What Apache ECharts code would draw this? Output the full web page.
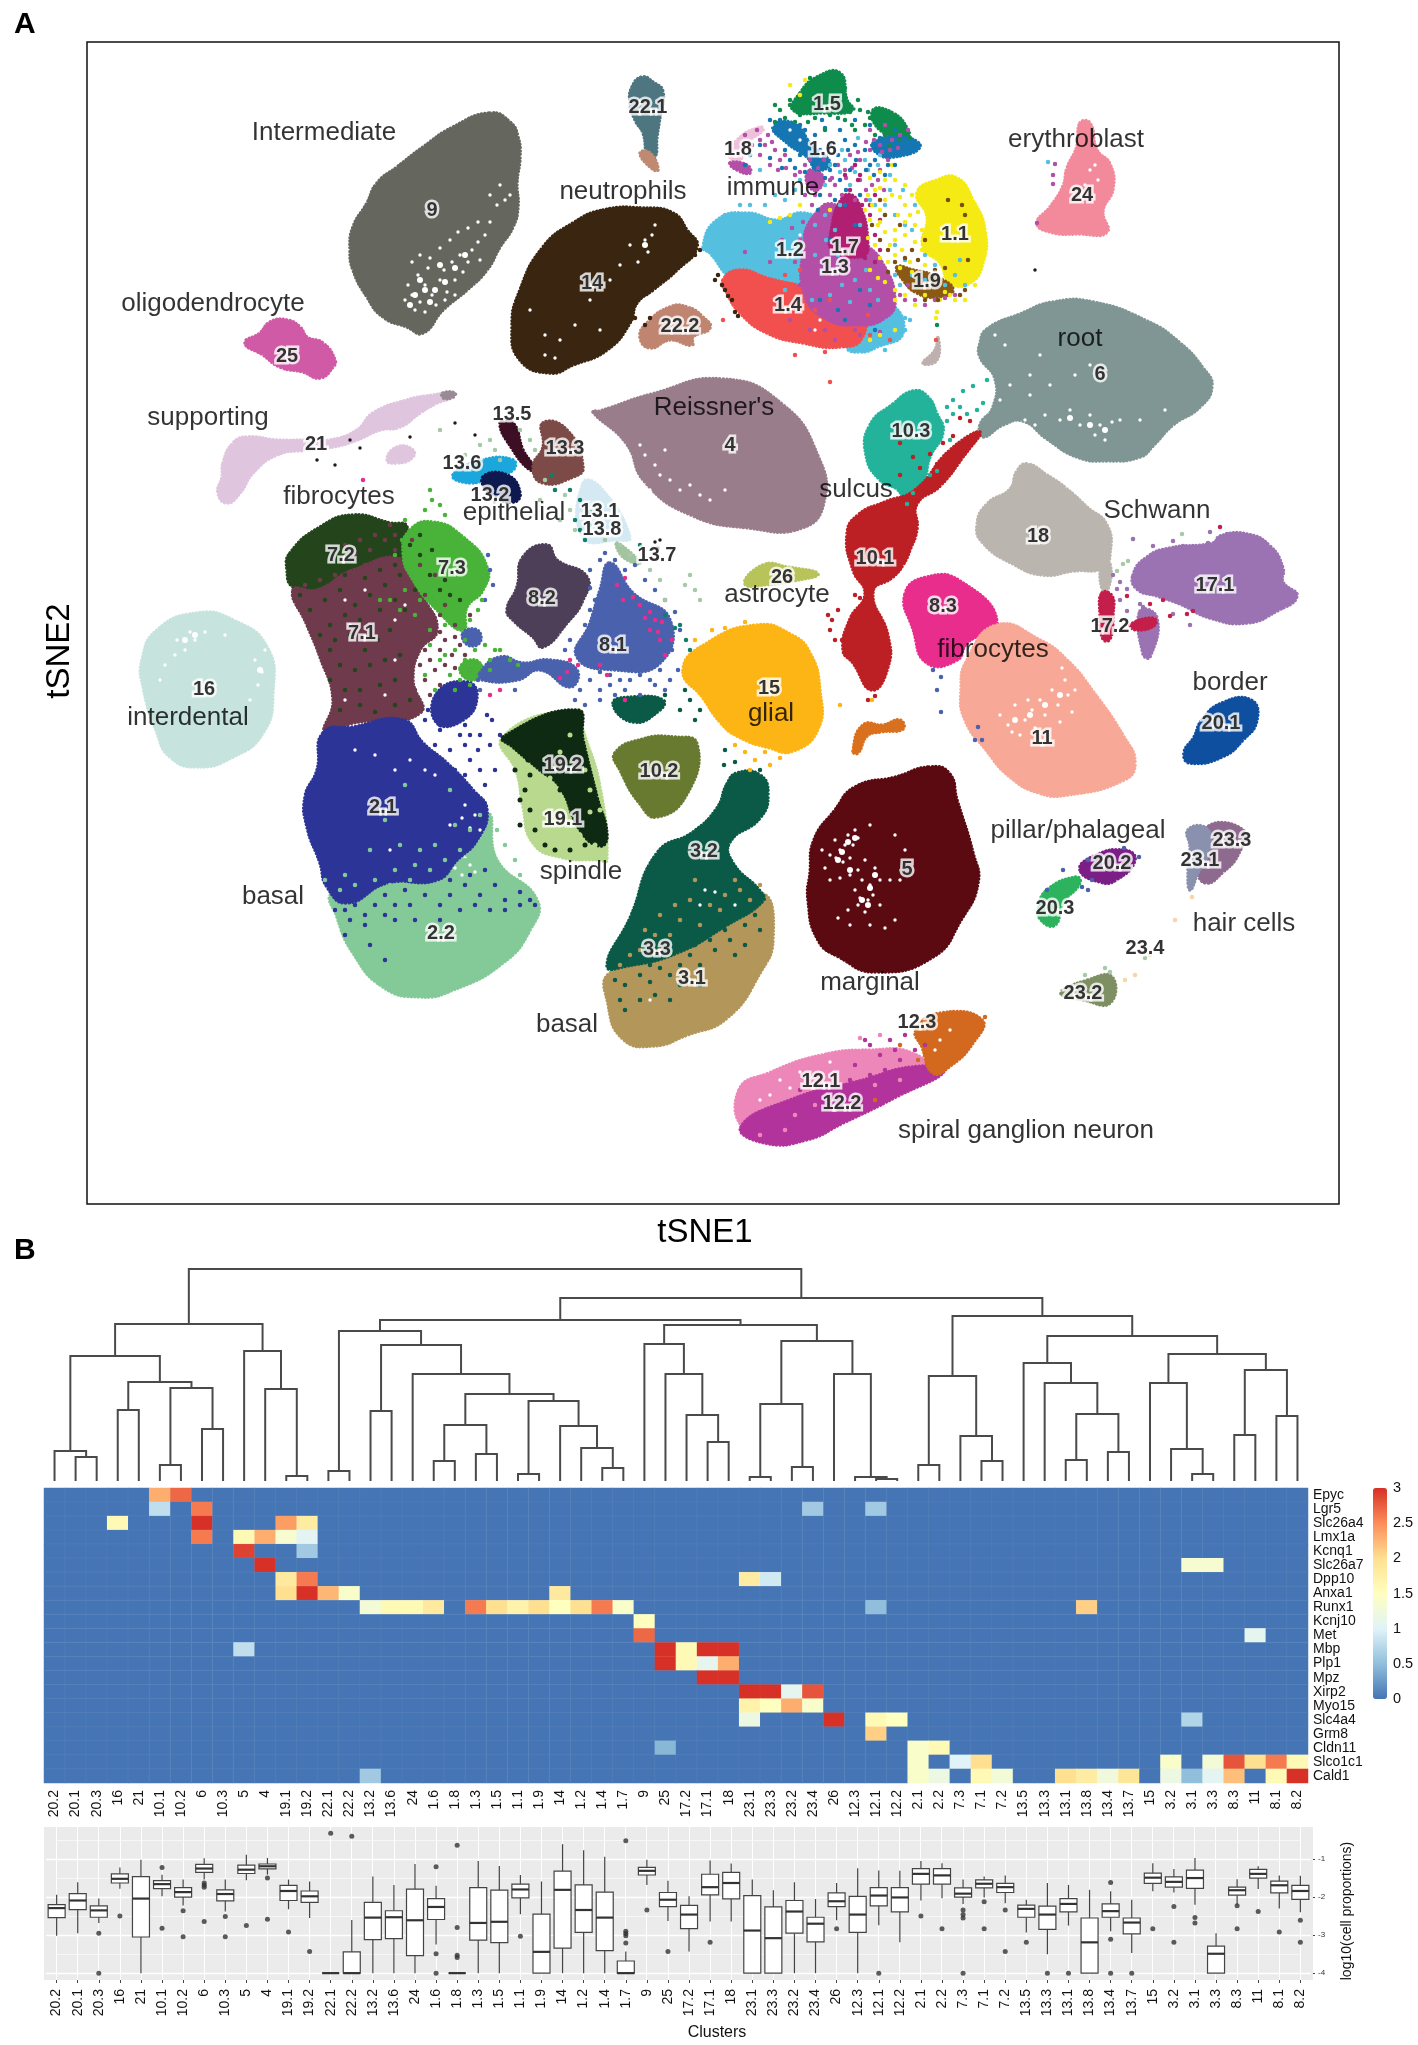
<!DOCTYPE html>
<html><head><meta charset="utf-8">
<script src="https://cdn.jsdelivr.net/npm/echarts@6/dist/echarts.min.js"></script>
<style>html,body{margin:0;padding:0;background:#fff}#c{width:1418px;height:2045px}</style></head>
<body><div id="c"></div>
<script>
// ---------- Panel A: cluster outlines, in tSNE axis units ----------
const c9=[[490,113],[510,122],[518,137],[520,157],[517,183],[518,207],[513,227],[500,247],[487,270],[467,290],[443,310],[423,333],[407,327],[383,317],[367,297],[353,270],[350,250],[353,227],[367,203],[377,183],[397,167],[423,147],[453,127]];
const c25=[[245,343],[260,333],[270,322],[287,320],[300,327],[307,337],[323,343],[335,360],[333,367],[320,378],[303,372],[280,367],[263,355]];
const c21=[[223,463],[233,443],[247,437],[277,440],[307,440],[330,440],[357,430],[373,413],[407,400],[433,395],[453,393],[453,397],[437,403],[420,413],[400,427],[380,430],[357,440],[333,447],[307,450],[277,455],[253,473],[240,493],[227,503],[218,493],[222,477]];
const c21b=[[387,460],[397,447],[413,450],[412,458],[397,463]];
const c21t=[[443,393],[455,393],[453,397],[443,398]];
const c14=[[603,210],[643,208],[673,213],[687,230],[697,247],[677,270],[653,290],[637,303],[630,323],[607,350],[573,365],[550,373],[520,360],[512,327],[520,290],[543,247],[573,223]];
const c221=[[632,87],[642,77],[653,82],[663,92],[660,117],[657,137],[655,157],[648,157],[643,133],[635,120],[630,103]];
const c221t=[[640,153],[650,153],[658,170],[650,167]];
const c222=[[640,337],[647,323],[670,307],[687,307],[703,317],[710,328],[693,337],[692,345],[670,340],[650,348]];
const c4=[[593,412],[600,411],[652,394],[723,379],[782,404],[818,456],[824,502],[802,528],[749,528],[691,515],[645,482],[626,443]];
const c6=[[987,329],[1020,314],[1053,302],[1093,302],[1147,321],[1180,343],[1203,368],[1212,386],[1200,407],[1173,425],[1153,446],[1140,457],[1107,461],[1077,457],[1047,439],[1023,421],[1003,425],[983,437],[980,425],[993,407],[995,379],[980,357],[980,343]];
const c103=[[893,404],[913,391],[927,396],[937,414],[943,432],[930,457],[923,482],[907,500],[897,489],[880,480],[866,455],[870,425]];
const c101=[[980,432],[963,457],[940,486],[917,504],[917,529],[910,550],[903,565],[893,577],[873,592],[888,636],[888,667],[872,690],[853,663],[843,650],[850,619],[865,594],[853,570],[847,534],[858,515],[885,502],[915,490],[950,450]];
const c18=[[1027,464],[1047,475],[1067,489],[1087,507],[1107,525],[1110,554],[1103,568],[1073,571],[1043,575],[1013,564],[983,543],[977,525],[987,504],[1010,489],[1017,471]];
const c18t=[[1102,564],[1110,564],[1108,589],[1102,589]];
const c171=[[1133,575],[1147,557],[1170,548],[1213,543],[1220,536],[1247,534],[1270,546],[1283,568],[1283,582],[1297,596],[1277,611],[1247,623],[1210,618],[1180,604],[1157,596],[1137,589]];
const c171t=[[1140,611],[1157,618],[1150,657],[1143,654]];
const c172=[[1102,593],[1112,596],[1113,614],[1110,639],[1103,639],[1100,614]];
const c172b=[[1130,625],[1153,618],[1155,625],[1137,630]];
const c24=[[1080,123],[1090,123],[1097,150],[1110,164],[1113,189],[1103,211],[1107,232],[1080,234],[1050,232],[1037,223],[1050,207],[1063,186],[1067,168],[1077,146]];
const c12=[[703,247],[717,220],[747,213],[777,220],[803,213],[820,225],[820,295],[790,295],[760,290],[733,280],[710,253]];
const c14b=[[723,280],[740,270],[767,278],[813,290],[860,310],[862,338],[840,347],[803,343],[767,333],[740,313],[727,293]];
const c13=[[813,217],[835,205],[862,240],[882,262],[895,300],[885,318],[857,325],[825,318],[805,295],[803,250]];
const c17=[[843,197],[857,200],[868,247],[860,257],[833,250],[830,237]];
const c12b=[[857,320],[890,305],[903,333],[877,347],[860,352],[847,347]];
const c11=[[917,193],[937,180],[957,178],[973,200],[985,230],[983,263],[970,283],[950,283],[940,263],[923,247],[927,217]];
const c19=[[897,267],[913,270],[937,277],[953,290],[937,297],[917,293],[903,280]];
const c15=[[800,93],[817,77],[840,73],[847,100],[853,110],[823,113],[793,110]];
const c15b=[[873,110],[893,113],[908,130],[907,138],[880,130]];
const c16=[[773,127],[793,123],[813,147],[830,163],[817,170],[807,157],[787,143]];
const c16b=[[873,143],[903,137],[920,147],[893,157],[877,153]];
const c13c=[[810,170],[823,177],[817,190],[807,183]];
const c18a=[[730,157],[737,140],[760,127],[763,130],[747,143],[740,160]];
const c18b=[[730,163],[747,165],[750,173],[737,170]];
const cStick=[[923,363],[935,350],[938,337],[937,360]];
const c72=[[290,553],[320,527],[353,515],[390,523],[407,527],[403,567],[353,577],[317,593],[293,587],[287,570]];
const c71=[[293,590],[317,590],[353,570],[403,560],[423,597],[437,630],[420,650],[413,680],[420,713],[353,723],[325,733],[333,700],[320,657],[307,625]];
const c73=[[410,530],[433,522],[463,537],[487,567],[483,590],[467,607],[463,630],[437,610],[413,580],[403,553]];
const c73b=[[460,668],[475,660],[482,672],[470,680]];
const c21c=[[437,693],[467,682],[477,697],[463,720],[437,723]];
const c82=[[523,557],[547,545],[557,560],[587,577],[583,600],[567,623],[543,647],[533,637],[513,620],[507,610],[517,587]];
const c81=[[610,563],[633,593],[670,620],[660,663],[617,670],[577,657],[590,623],[600,590]];
const c81b=[[480,673],[500,657],[523,663],[550,660],[577,670],[570,687],[540,670],[517,680],[483,680]];
const c81c=[[463,633],[477,630],[480,642],[468,645]];
const c32b=[[613,703],[633,697],[663,700],[660,710],[633,722]];
const c83=[[905,594],[927,577],[960,581],[997,622],[967,643],[957,660],[927,663],[913,629]];
const c11s=[[997,625],[1040,640],[1067,660],[1092,690],[1124,737],[1135,763],[1124,780],[1067,795],[1039,793],[1010,777],[986,750],[965,720],[961,690],[967,660]];
const c201=[[1202,720],[1222,703],[1251,700],[1257,720],[1243,740],[1222,757],[1190,763],[1184,753],[1194,737]];
const c15g=[[683,670],[707,643],[757,625],[790,634],[810,653],[820,691],[818,729],[793,751],[770,748],[737,736],[720,722],[703,698]];
const c102=[[615,753],[643,739],[673,737],[697,744],[687,794],[657,817],[640,804],[620,770]];
const c191=[[503,737],[577,710],[583,730],[600,787],[607,860],[600,860],[560,857],[533,843],[523,807],[517,773]];
const c192=[[503,737],[577,710],[583,740],[597,797],[607,835],[600,846],[580,830],[560,787],[540,770],[513,747]];
const c21m=[[323,733],[353,727],[403,720],[423,743],[447,763],[473,790],[487,810],[477,840],[457,860],[437,880],[387,883],[347,903],[327,887],[320,863],[307,827],[305,797],[317,770]];
const c22=[[487,813],[497,860],[537,900],[530,930],[503,963],[453,990],[420,997],[383,987],[353,953],[337,917],[333,893],[420,873],[453,853]];
const c32=[[727,784],[737,773],[760,775],[768,794],[760,818],[730,842],[733,863],[760,891],[763,901],[727,925],[677,953],[627,966],[607,966],[630,918],[657,853],[693,832],[717,808]];
const c31=[[763,894],[773,939],[760,973],[727,1018],[687,1035],[653,1046],[623,1039],[608,1004],[610,973],[677,953],[727,925]];
const c5=[[929,767],[949,773],[957,800],[973,853],[978,883],[961,920],[933,957],[876,972],[839,957],[818,940],[808,900],[810,873],[814,840],[835,810],[855,787],[896,777]];
const c121=[[739,1090],[769,1073],[822,1055],[871,1050],[912,1053],[929,1073],[884,1100],[822,1123],[782,1137],[745,1130]];
const c122=[[741,1127],[790,1100],[863,1080],[912,1067],[945,1070],[896,1097],[843,1123],[806,1140],[765,1143]];
const c123=[[916,1030],[941,1013],[982,1020],[973,1043],[949,1067],[933,1073],[922,1047]];
const c202=[[1080,870],[1092,857],[1124,850],[1135,860],[1116,880],[1100,882]];
const c203=[[1039,907],[1047,890],[1076,877],[1080,883],[1063,903],[1055,925],[1041,920]];
const c233=[[1206,828],[1243,830],[1239,853],[1222,873],[1206,883],[1198,870]];
const c231=[[1188,830],[1206,828],[1210,847],[1198,873],[1190,890],[1188,870],[1190,847]];
const c232=[[1088,980],[1112,977],[1110,1003],[1084,1000],[1061,993]];
const c26=[[745,584],[763,565],[787,567],[818,574],[793,581],[773,584]];
const cOrange=[[853,751],[863,725],[883,725],[900,720],[903,729],[880,732],[867,736],[858,753]];
const c135=[[500,423],[513,423],[523,450],[533,467],[530,470],[513,450]];
const c133=[[543,423],[567,430],[583,467],[573,477],[543,483],[533,467],[543,447]];
const c136=[[453,475],[483,460],[513,460],[513,470],[490,477],[470,483]];
const c132=[[483,477],[507,475],[520,493],[513,502],[490,493]];
const c131=[[583,483],[600,487],[630,537],[617,540],[583,537]];
const c137=[[617,543],[640,563],[623,557]];
const cl16=[[142,660],[157,630],[197,613],[233,620],[267,647],[273,693],[263,733],[233,757],[197,767],[170,757],[157,733],[143,687]];

// scattered cells
const dBlue=[[815,255],[822,272],[830,295],[842,285],[855,280],[866,270],[850,302],[838,255],[826,240],[815,225],[860,225],[875,205],[885,215],[850,185],[868,170],[880,155],[855,165],[840,172],[825,185],[842,150],[858,138],[890,175],[903,190],[915,205],[905,225],[895,245],[912,230],[925,255],[935,265],[960,260],[965,285],[895,320],[905,318],[812,300],[798,310],[785,290],[770,275],[790,275],[775,225],[835,230],[870,290],[878,300],[1048,162],
[830,165],[845,160],[855,172],[865,160],[878,165],[870,200],[885,205],[895,215],[890,190],[840,205],[825,215],[760,170],[800,180],[795,190],[785,200],[775,195],[765,205],[750,205],[740,205],[725,215],[715,230],[712,245],[905,260],[912,275],[925,280],[945,285],[955,275],[895,275],[900,285],[905,330],[885,350],[910,320]];
const dPurple=[[745,252],[770,262],[782,240],[795,262],[800,240],[803,222],[792,228],[800,285],[778,298],[790,320],[810,330],[825,330],[835,340],[860,335],[880,332],[855,330],[885,125],[820,175],[830,195],[825,205],[835,185],[845,170],[850,155],[860,160],[870,150],[880,145],[890,150],[860,180],[872,185],[855,200],[815,195],[808,180],[800,172],[880,170],[870,130],[885,135],[770,165],[780,160],[785,155],[775,150],[765,145],[768,135],[757,130],[752,145],[760,155],[905,300],[915,300],[925,305],[880,320],[900,295],[908,285],[920,282],[935,300],[945,298],[955,295],[1053,175],[1053,184],[1055,164],[1037,223],
[818,168],[824,160],[832,178],[838,165],[846,178],[852,168],[858,152],[866,142],[874,140],[882,152],[888,160],[866,190],[878,180],[884,190],[842,195],[830,180],[822,212],[812,205],[805,195],[866,200],[892,140],[900,135],[908,130],[898,148],[760,140],[745,135],[772,142],[778,170],[786,168],[810,160],[795,175],[812,172],[805,165]];
const dMagenta=[[850,190],[858,180],[862,205],[870,215],[875,235],[850,215],[838,212],[843,225],[865,230],[880,250],[875,195],[860,175],[845,175],[855,165],[870,205],[880,220],[855,240],[840,240],[835,220],[865,258],[875,262]];
const dYellow=[[868,195],[875,190],[872,205],[880,210],[885,200],[870,220],[878,225],[885,232],[868,238],[892,195],[900,197],[905,205],[898,215],[910,215],[915,225],[905,235],[895,230],[890,245],[880,258],[888,262],[902,250],[915,242],[922,250],[910,262],[925,265],[932,255],[895,255],[875,245],[885,180],[880,172],[892,165],[870,178],[830,210],[800,205],[790,215],[780,218],[770,222],[905,295],[915,305],[925,295],[895,300],[880,335],[895,330],[870,340],[960,280],[975,285],[950,295],[940,300],[800,95],[790,85],[805,80],[937,312],[936,318],
[865,210],[880,222],[895,240],[905,222],[918,212],[922,230],[930,245],[935,240],[900,268],[912,272],[885,282],[870,270],[878,278],[895,290],[945,292],[955,300],[965,300],[880,188],[895,180],[905,185],[912,195]];
const dBrown=[[872,225],[880,240],[888,250],[895,262],[905,258],[880,200],[885,215],[900,225],[912,250],[925,240],[918,260],[888,272],[935,270],[945,268],[960,295],[965,290],[938,300],[925,300],[965,215],[962,205],[968,260],[948,200]];
const dRed=[[800,270],[815,310],[830,300],[845,335],[785,275],[870,335],[890,340],[868,315],[723,320],[795,355],[825,352],[830,382],[936,340]];
const dImmBlue=[[780,135],[795,135],[805,130],[815,135],[825,128],[785,150],[800,155],[820,150],[830,145],[838,155],[845,140],[855,145],[815,165],[830,170],[840,180],[850,170],[865,150],[875,160],[888,165],[895,165],[905,150],[912,140],[820,195],[845,205],[855,225],[830,240],[800,300],[820,300],[860,290],[870,305],[845,320],[838,310],[875,330],[780,120],[770,120],
[790,160],[795,168],[805,172],[812,155],[826,155],[835,165],[848,150],[856,160],[866,170],[874,175],[885,175],[860,195],[846,190],[835,200],[825,178],[818,210],[870,165],[880,138],[895,130],[910,152],[760,145],[750,155],[745,165],[770,158],[782,168],[870,125],[855,120],[840,130],[822,120],[800,125],[790,125]];
const dImmGreen=[[800,115],[785,118],[775,122],[815,118],[830,115],[845,120],[850,112],[860,110],[870,118],[880,125],[865,125],[855,130],[875,135],[885,115],[900,140],[890,145],[830,100],[845,88],[810,78],[790,105],[825,130],[937,325],[795,122],[808,122],[838,118],[852,125],[868,112],[880,118],[858,100],[850,108],[895,125],[885,135],[900,128],[910,138],[780,110],[790,100],[775,105]];
const dDark14=[[722,285],[725,290],[728,296],[732,300],[718,275],[735,312],[738,316],[700,250],[695,255],[650,318],[645,325],[635,318],[715,280]];
const dTeal103=[[947,407],[953,400],[963,391],[973,386],[987,380],[960,407],[967,414],[977,410],[983,403],[947,421],[953,414],[913,493],[907,504],[930,475],[937,471],[950,440]];
const dRed101=[[943,443],[953,436],[960,418],[970,421],[937,464],[913,457],[900,443],[920,468],[900,475],[930,454],[832,620],[838,610],[830,630],[835,640],[842,640],[828,615],[855,595],[860,598],[875,696],[868,700]];
const dPink81=[[617,585],[623,600],[633,597],[640,605],[650,612],[655,620],[662,622],[658,632],[650,630],[660,640],[645,618],[672,640],[665,655],[600,665],[578,665],[570,660],[567,672],[625,578],[607,675],[560,678],[500,690],[490,695],[625,700],[363,480]];
const dBlue81=[[600,560],[590,570],[605,553],[615,560],[625,570],[635,565],[645,580],[655,590],[665,600],[675,612],[680,630],[672,650],[678,670],[670,680],[665,690],[655,685],[640,695],[625,690],[610,685],[600,690],[590,680],[580,690],[575,700],[585,705],[600,700],[615,695],[650,680],[630,680],[640,675],[660,670],[620,680],[590,665],[600,672],[610,675],[570,640],[565,650],[555,665],[590,610],[585,625],[595,600],[590,588],[605,580],[620,610],[500,680],[515,690],[480,690],[470,670],[488,668],[478,680],[488,555],[490,570],[493,585],[485,600],[933,670],[941,677],[937,690],[941,712],[978,727],[982,740],[975,740],[1088,860],[1063,870],[1088,890],[1082,887],[1092,880],[1047,890],[1124,848],[1139,857]];
const dMauve=[[395,640],[405,635],[415,640],[400,650],[412,655],[425,650],[420,665],[430,660],[440,650],[445,640],[452,655],[460,645],[435,670],[445,665],[455,668],[465,655],[425,680],[440,685],[415,690],[430,695],[405,625],[425,620],[440,615],[455,625],[470,615],[440,632],[455,637],[420,630],[345,560],[355,555],[370,550],[385,540],[395,550],[380,560],[365,565],[350,572],[335,575],[320,580],[305,585],[395,535],[400,570],[390,525],[375,535],[360,540],[345,545],[412,540],[420,565],[435,575],[425,595],[445,605]];
const dGreen=[[430,645],[445,655],[455,650],[465,660],[475,650],[470,670],[480,665],[490,660],[500,650],[490,670],[460,680],[470,685],[450,675],[440,660],[425,675],[435,690],[455,690],[475,675],[465,640],[485,645],[430,630],[445,625],[415,615],[420,600],[405,590],[400,610],[390,600],[415,575],[425,585],[410,560],[402,540],[395,555],[380,600],[405,520],[425,510],[445,515],[430,490],[432,500],[440,505],[482,600],[470,620],[478,610],[495,650],[510,660],[518,665]];
const dDkGreen=[[300,595],[310,610],[325,600],[340,590],[355,605],[370,595],[385,585],[400,575],[395,600],[380,610],[360,620],[345,615],[330,625],[320,635],[335,640],[350,635],[365,650],[378,640],[390,630],[405,610],[415,590],[340,665],[355,670],[370,665],[385,660],[345,690],[360,690],[380,685],[395,680],[340,710],[360,705],[375,712],[395,705],[410,700],[330,680],[400,655],[330,650],[345,575],[365,578],[380,570],[395,565],[410,545],[420,555],[430,575],[440,590],[450,595],[460,600],[432,550],[445,580],[420,535]];
const dBasalBlue=[[425,720],[440,730],[450,725],[460,735],[470,735],[480,735],[435,745],[450,750],[465,745],[478,750],[490,745],[470,760],[480,770],[465,775],[455,770],[470,790],[485,785],[495,770],[480,800],[440,725],[428,710],[487,715],[440,715],[465,725],[500,735],[492,720],[340,895],[345,910],[360,895],[375,905],[350,920],[365,925],[385,915],[395,905],[410,905],[425,895],[440,905],[450,895],[465,885],[480,895],[495,885],[505,900],[520,892],[530,900],[535,905],[520,905],[505,910],[490,910],[475,905],[460,910],[440,920],[415,920],[395,920],[345,935],[370,945],[385,960],[365,915],[450,880],[470,875],[485,870],[425,880],[405,890],[385,895],[370,890],[355,905],[335,910]];
const dBasalLight=[[405,785],[450,790],[385,820],[370,850],[400,845],[420,850],[435,845],[455,825],[470,830],[340,890],[355,885],[375,880],[395,870],[415,865],[430,870],[445,860],[460,850],[480,815],[465,860],[345,875],[390,885],[410,880],[325,880],[497,830],[505,845],[515,860],[520,875]];
const d19Dark=[[525,790],[530,810],[520,825],[535,830],[545,845],[555,850],[570,850],[585,845],[590,835],[530,775],[528,760],[515,770],[545,760],[555,775],[570,800],[560,790],[575,815],[580,800],[595,815],[600,830],[520,800]];
const d19Light=[[560,752],[570,735],[585,770],[590,790],[575,770],[600,810],[590,812],[595,845],[580,835],[550,778]];
const d3Teal=[[640,975],[650,982],[660,968],[670,975],[680,965],[690,955],[700,965],[715,950],[730,940],[745,925],[755,915],[725,930],[710,940],[735,955],[700,985],[670,1000],[655,995],[625,985],[615,980],[620,1000],[640,1000],[680,985],[695,945],[745,945],[760,930],[625,1010],[650,965],[665,955],[678,945],[705,925],[720,920],[735,915],[755,903],[685,690],[690,700],[700,710],[695,720],[725,750],[724,765],[735,762],[760,770],[680,710],[665,695]];
const d3Tan=[[690,900],[700,925],[680,920],[670,935],[655,935],[640,950],[660,915],[710,905],[725,895],[740,890],[750,900],[720,910],[645,930],[630,955],[620,965],[675,905],[695,880],[660,950],[735,880],[760,885]];
const d12Magenta=[[800,1090],[815,1095],[830,1085],[850,1080],[870,1075],[885,1070],[900,1060],[915,1050],[925,1045],[870,1045],[890,1040],[905,1035],[760,1125],[775,1115],[855,1065],[880,1055],[895,1050],[865,1040]];
const d12Pink=[[795,1115],[815,1105],[835,1110],[855,1095],[875,1085],[760,1135],[785,1130],[900,1080],[860,1038],[880,1035]];
const d12Orange=[[918,1060],[925,1055],[900,1045],[875,1100],[985,1017]];
const dSage=[[490,440],[495,450],[500,460],[520,430],[530,440],[535,450],[545,480],[555,490],[565,495],[540,500],[570,510],[560,520],[575,530],[590,525],[605,540],[620,545],[630,555],[640,560],[650,570],[660,580],[665,600],[685,585],[690,575],[695,590],[700,600],[480,445],[440,430],[465,455],[1117,571],[1123,564],[1128,561],[1133,539],[1182,534],[1105,968],[1110,972],[1085,975],[1145,958]];
const dTeal13=[[575,520],[580,530],[585,540],[590,512],[590,525],[555,490],[552,475],[570,490],[580,500],[640,545],[665,615],[680,625],[686,640],[690,650],[675,628]];
const dDarkMisc=[[655,542],[660,540],[658,548],[475,435],[455,423],[410,437],[350,440],[335,465],[360,448],[317,460],[1035,270]];
const dGlial=[[695,640],[700,650],[712,630],[725,628],[735,630],[745,622],[770,745],[735,745],[745,752],[755,760],[765,752],[750,770],[770,765],[780,758],[840,705],[872,700]];
const dPurple17=[[1113,575],[1120,582],[1127,589],[1117,589],[1153,546],[1173,541],[1183,546],[1208,543],[1210,532],[1227,534],[1133,539],[1120,600],[1140,604],[1127,611],[1173,614],[1190,625],[1153,614],[1143,607]];
const dRed17=[[1163,600],[1150,604],[1170,616],[1187,614],[1193,611],[1127,596],[1220,527]];
const dCream=[[1135,975],[1125,980],[1150,955],[1175,920],[1192,897],[1160,945]];
const dWhite=[[408,285],[412,295],[418,275],[420,302],[425,285],[428,268],[432,295],[436,305],[440,280],[444,270],[447,292],[452,262],[455,280],[460,255],[463,272],[468,262],[472,250],[478,242],[480,260],[485,235],[440,248],[450,240],[458,232],[468,228],[478,222],[490,222],[497,205],[505,200],[510,195],[500,185],[490,195],[430,258],[420,255],[412,262],[405,300],[415,310],[425,312],[445,300],[455,295],
[835,840],[840,850],[845,845],[850,858],[843,862],[836,858],[853,845],[830,855],[848,835],[858,838],[822,850],[825,868],[830,880],[840,878],[850,875],[858,870],[865,860],[875,868],[880,880],[870,885],[862,880],[855,890],[860,898],[868,900],[873,895],[880,905],[865,912],[858,905],[848,910],[838,918],[850,925],[870,925],[885,928],[895,920],[855,830],[870,825],[895,835],[905,850],[890,880],[900,880],
[1000,715],[1008,725],[1015,705],[1025,720],[1032,710],[1040,700],[1045,715],[1052,690],[1058,705],[1065,680],[1068,695],[1072,712],[1060,722],[1035,728],[1020,735],[1012,732],[1062,668],[1075,690],[1028,700],
[1025,420],[1035,425],[1045,415],[1060,420],[1070,410],[1080,425],[1090,415],[1100,425],[1112,422],[1095,435],[1105,440],[1120,420],[1140,420],[1165,410],[1000,400],[1010,385],[1030,375],[1050,385],[1075,375],[1090,365],[1040,355],[995,335],[1005,345],[1030,395],
[630,245],[645,240],[652,235],[648,252],[638,262],[620,265],[590,300],[600,330],[575,325],[560,340],[545,335],[545,355],[555,358],[530,310],[610,280],[655,225],
[177,640],[185,650],[195,640],[205,632],[190,632],[175,655],[165,665],[160,680],[255,660],[262,672],[258,685],[265,650],[250,700],[225,635],[200,680],
[645,455],[655,465],[660,475],[670,480],[680,490],[690,485],[700,495],[665,450],[640,445],[710,500],[725,490],[650,490],
[455,868],[462,875],[470,865],[465,858],[475,872],[355,750],[375,755],[395,770],[410,760],[425,770],[435,775],[390,850],[450,825],[465,805],[475,815],[470,828],[480,830],[462,818],
[705,890],[715,892],[700,905],[735,905],[650,1000],[770,1095],[760,1100],[780,1080],[800,1072],[790,1088],[830,1062],[940,1040],[950,1030],[935,1050],
[800,235],[795,245],[820,320],[815,330],[772,125],[800,140],[790,130],[830,115],[850,125],[1085,185],[1095,165],[1098,180],[1090,170],
[345,600],[365,590],[395,620],[395,660],[350,625],[345,700],[385,695],[405,605]];
const dWhiteClump=[[425,290],[435,290],[415,295],[445,282],[420,280],[455,268],[465,255],[430,302],[410,305],[440,265],[842,852],[838,860],[848,842],[862,900],[870,888],[868,905],[855,838],[875,875],[850,870],[1030,715],[1045,705],[1060,695],[1015,720],[1090,425],[1105,430],[1070,418],[185,640],[195,635],[260,670],[645,245]];

// region names and cluster numbers, at their tSNE positions
const regionLabels=[[324,133,'Intermediate'],[623,192,'neutrophils'],[773,188,'immune'],[1076,140,'erythroblast'],[213,304,'oligodendrocyte'],[1080,339,'root'],[714,408,"Reissner's"],[208,418,'supporting'],[339,497,'fibrocytes'],[514,513,'epithelial'],[856,490,'sulcus'],[1157,511,'Schwann'],[777,595,'astrocyte'],[993,650,'fibrocytes'],[1230,683,'border'],[188,718,'interdental'],[771,714,'glial'],[1078,831,'pillar/phalageal'],[581,872,'spindle'],[273,897,'basal'],[1244,924,'hair cells'],[870,983,'marginal'],[567,1025,'basal'],[1026,1131,'spiral ganglion neuron']];
const numberLabels=[[648,107,'22.1'],[827,104,'1.5'],[823,149,'1.6'],[738,149,'1.8'],[955,234,'1.1'],[790,250,'1.2'],[845,247,'1.7'],[835,267,'1.3'],[927,281,'1.9'],[788,305,'1.4'],[592,283,'14'],[680,326,'22.2'],[432,210,'9'],[287,356,'25'],[1082,195,'24'],[1100,374,'6'],[730,445,'4'],[911,431,'10.3'],[316,444,'21'],[512,414,'13.5'],[565,448,'13.3'],[462,463,'13.6'],[490,495,'13.2'],[600,511,'13.1'],[602,529,'13.8'],[657,555,'13.7'],[875,558,'10.1'],[341,555,'7.2'],[452,568,'7.3'],[542,598,'8.2'],[613,645,'8.1'],[362,633,'7.1'],[782,577,'26'],[943,606,'8.3'],[1215,585,'17.1'],[1110,626,'17.2'],[1038,536,'18'],[204,689,'16'],[769,688,'15'],[1042,738,'11'],[1221,723,'20.1'],[659,771,'10.2'],[563,765,'19.2'],[563,819,'19.1'],[383,807,'2.1'],[441,933,'2.2'],[704,851,'3.2'],[657,949,'3.3'],[692,978,'3.1'],[907,869,'5'],[1112,863,'20.2'],[1055,908,'20.3'],[1232,840,'23.3'],[1200,860,'23.1'],[1145,948,'23.4'],[1083,993,'23.2'],[917,1022,'12.3'],[821,1081,'12.1'],[842,1103,'12.2']];

// ---------- Panel B: columns, genes, marker expression, dendrogram, cell proportions ----------
const clusters=['20.2','20.1','20.3','16','21','10.1','10.2','6','10.3','5','4','19.1','19.2','22.1','22.2','13.2','13.6','24','1.6','1.8','1.3','1.5','1.1','1.9','14','1.2','1.4','1.7','9','25','17.2','17.1','18','23.1','23.3','23.2','23.4','26','12.3','12.1','12.2','2.1','2.2','7.3','7.1','7.2','13.5','13.3','13.1','13.8','13.4','13.7','15','3.2','3.1','3.3','8.3','11','8.1','8.2'];
const genes=['Epyc','Lgr5','Slc26a4','Lmx1a','Kcnq1','Slc26a7','Dpp10','Anxa1','Runx1','Kcnj10','Met','Mbp','Plp1','Mpz','Xirp2','Myo15','Slc4a4','Grm8','Cldn11','Slco1c1','Cald1'];
const expression={
Epyc:[['10.1',2.3],['10.2',2.7]],
Lgr5:[['10.1',0.8],['6',2.6],['23.4',0.6],['12.1',0.6]],
Slc26a4:[['16',1.6],['6',3],['19.1',2.4],['19.2',1.8]],
Lmx1a:[['6',2.6],['5',1.6],['4',2.3],['19.1',1.35],['19.2',1.05]],
Kcnq1:[['5',2.9],['19.2',0.6]],
Slc26a7:[['4',3],['3.1',1.35],['3.3',1.35]],
Dpp10:[['19.1',1.85],['19.2',2.6],['23.1',1.8],['23.3',0.9]],
Anxa1:[['19.1',2],['19.2',3],['22.1',2.25],['22.2',1.4],['14',1.85]],
Runx1:[['13.2',1.3],['13.6',1.6],['24',1.6],['1.6',1.85],['1.3',2.6],['1.5',2],['1.1',1.7],['1.9',2],['14',1.5],['1.2',2],['1.4',2.6],['1.7',1.4],['12.1',0.5],['13.8',2.1]],
Kcnj10:[['9',1.5]],
Met:[['9',2.7],['11',1.1]],
Mbp:[['5',0.8],['25',3],['17.2',1.6],['17.1',3],['18',3]],
Plp1:[['25',3],['17.2',1.6],['17.1',1.1],['18',2.3]],
Mpz:[['17.1',3],['18',3]],
Xirp2:[['23.1',3],['23.3',3],['23.2',1.1],['23.4',2.8]],
Myo15:[['23.1',1.7],['23.3',1.5],['23.2',2.3],['23.4',1.4]],
Slc4a4:[['23.1',1.2],['26',3],['12.1',1.6],['12.2',1.5],['3.1',0.7]],
Grm8:[['12.1',2.1]],
Cldn11:[['25',0.45],['2.1',1.4],['2.2',1.6]],
Slco1c1:[['2.1',1.4],['7.3',1.0],['7.1',2],['3.2',1.4],['3.3',1.3],['8.3',2.8],['11',2],['8.1',2.6],['8.2',1.6]],
Cald1:[['13.2',0.6],['2.1',1.4],['2.2',1.2],['7.1',1.6],['7.2',1.3],['13.1',2],['13.8',1.8],['13.4',1.25],['13.7',1.9],['3.2',1.2],['3.1',0.5],['3.3',1.05],['8.3',2.2],['8.1',1.6],['8.2',3]]};
// merge height, left branch, right branch (leaves are cluster names)
const dendrogram=[212,
 [157,[125,[30,'20.2',[24,'20.1','20.3']],[99,[71,'16','21'],[93,[16,'10.1','10.2'],[52,'6','10.3']]]],
      [130,'5',[92,'4',[5,'19.1','19.2']]]],
 [183,
  [161,
   [150,[10,'22.1','22.2'],[136,[70,'13.2','13.6'],[107,'24',[87,[56,[20,'1.6','1.8'],[27,'1.3','1.5']],[80,[7,'1.1','1.9'],[55,'14',[33,'1.2',[13,'1.4','1.7']]]]]]]],
   [156,[137,'9',[107,'25',[66,'17.2',[39,'17.1','18']]]],
        [140,[77,[4,'23.1','23.3'],[14,'23.2','23.4']],[107,'26',[4,'12.3',[2,'12.1','12.2']]]]]],
  [165,
   [105,[16,'2.1','2.2'],[45,'7.3',[20,'7.1','7.2']]],
   [145,[118,'13.5',[98,'13.3',[67,[21,'13.1','13.8'],[29,'13.4','13.7']]]],
        [127,[98,'15',[32,'3.2',[7,'3.1','3.3']]],[111,[46,'8.3','11'],[65,'8.1','8.2']]]]]]];
// whisker low, Q1, median, Q3, whisker high, same order as clusters
const boxStats=[[-3.02,-2.54,-2.29,-2.2,-1.94],[-2.95,-2.33,-2.09,-1.91,-1.61],[-2.68,-2.53,-2.35,-2.23,-2.04],[-1.78,-1.63,-1.52,-1.39,-1.22],[-4,-3.05,-2.04,-1.46,-1.02],[-1.98,-1.78,-1.66,-1.57,-1.41],[-2.22,-2,-1.87,-1.75,-1.54],[-1.54,-1.35,-1.25,-1.14,-0.98],[-2.38,-2.1,-1.92,-1.81,-1.54],[-1.56,-1.38,-1.28,-1.16,-0.89],[-1.41,-1.26,-1.19,-1.13,-0.97],[-2.32,-2.09,-1.84,-1.69,-1.54],[-2.55,-2.14,-1.98,-1.84,-1.59],[-4,-4,-4,-4,-4],[-4,-4,-4,-3.44,-2.6],[-4,-3.12,-2.54,-2.14,-1.46],[-4,-3.09,-2.53,-2.36,-1.68],[-4,-3.54,-2.61,-1.79,-1.13],[-3.25,-2.59,-2.26,-2.04,-1.7],[-4,-4,-4,-4,-4],[-4,-3.13,-2.68,-1.75,-1.05],[-4,-3.2,-2.65,-1.82,-1.18],[-2.45,-2.02,-1.8,-1.66,-1.42],[-4,-4,-3.44,-2.45,-1.59],[-4,-3.34,-1.81,-1.32,-0.61],[-4,-2.93,-2.34,-1.68,-0.77],[-4,-3.41,-2.54,-1.87,-0.94],[-4,-4,-4,-3.68,-3.43],[-1.68,-1.42,-1.31,-1.22,-1.02],[-2.63,-2.25,-2.07,-1.88,-1.57],[-3.43,-2.83,-2.46,-2.22,-1.98],[-2.64,-1.94,-1.74,-1.4,-1.04],[-2.64,-2.05,-1.63,-1.35,-1.12],[-4,-4,-2.88,-1.96,-1.54],[-4,-4,-3.08,-2.26,-1.82],[-4,-2.95,-2.38,-2.09,-1.61],[-4,-3.18,-2.7,-2.53,-2.05],[-2.61,-2.25,-2.11,-1.89,-1.63],[-4,-2.93,-2.46,-1.98,-1.24],[-2.74,-2.23,-1.96,-1.75,-1.3],[-3.19,-2.39,-2.01,-1.75,-1.31],[-2.09,-1.66,-1.39,-1.25,-1.05],[-2.03,-1.66,-1.43,-1.25,-1.11],[-2.18,-2,-1.91,-1.76,-1.54],[-2.01,-1.76,-1.65,-1.55,-1.46],[-2.16,-1.88,-1.74,-1.64,-1.43],[-2.93,-2.53,-2.31,-2.21,-2.07],[-3.5,-2.85,-2.46,-2.24,-1.63],[-2.75,-2.39,-2.18,-2.04,-1.68],[-4,-4,-3.19,-2.55,-1.81],[-2.9,-2.53,-2.37,-2.18,-1.85],[-3.47,-2.97,-2.67,-2.55,-2.07],[-1.85,-1.64,-1.49,-1.37,-1.11],[-1.88,-1.74,-1.6,-1.47,-1.26],[-2.2,-1.77,-1.5,-1.29,-0.97],[-4,-4,-3.49,-3.29,-2.95],[-2.2,-1.95,-1.82,-1.74,-1.53],[-1.79,-1.5,-1.39,-1.27,-1.19],[-2.3,-1.89,-1.69,-1.58,-1.43],[-2.4,-2.06,-1.84,-1.69,-1.44]];
const outliers=[['20.3',-2.95],['20.3',-4],['16',-2.5],['10.1',-1.22],['10.1',-2.82],['10.2',-2.36],['10.2',-3.04],['6',-1.63],['6',-1.69],['6',-1.74],['6',-2.64],['10.3',-2.51],['10.3',-3.04],['5',-2.75],['4',-1.5],['4',-2.58],['19.1',-2.92],['19.2',-3.43],['22.1',-0.32],['22.2',-0.4],['1.6',-1.2],['1.6',-3.49],['1.6',-4],['1.8',-0.64],['1.8',-2.8],['1.8',-3.53],['1.8',-3.59],['1.1',-3.03],['1.7',-0.52],['1.7',-2.9],['1.7',-2.96],['1.7',-3.02],['1.7',-3.21],['9',-2.34],['25',-3.43],['17.1',-3.19],['26',-2.83],['12.1',-4],['2.1',-2.5],['2.2',-2.83],['7.3',-2.34],['7.3',-2.46],['7.3',-2.55],['7.3',-4],['7.1',-2.12],['7.1',-2.83],['7.2',-2.34],['7.2',-3.43],['13.5',-3.19],['13.3',-4],['13.1',-4],['13.4',-1.62],['13.4',-3.11],['13.4',-4],['13.7',-4],['15',-2.83],['3.2',-2.25],['3.2',-3.19],['3.1',-2.54],['3.1',-2.68],['8.3',-2.23],['8.3',-2.83],['11',-2.38],['8.1',-2.92],['8.2',-2.61],['8.2',-3.19]];

// ---------- assembling ----------
const shapes=[[cl16,'#C6E4DD'],[c9,'#65675F'],[c25,'#D05AA6'],[c21,'#E0C5DF'],[c21b,'#E0C5DF'],[c21t,'#9A8A96'],[c14,'#3A2510'],[c221,'#4D7680'],[c221t,'#C08A72'],[c222,'#BF8570'],[c4,'#9A7D8A'],[c6,'#7F9694'],[c103,'#22B39A'],[c101,'#BC2024'],[c18,'#BBB5AF'],[c18t,'#BBB5AF'],[c171,'#9B72B2'],[c171t,'#9B72B2'],[c172,'#C41E4B'],[c172b,'#C41E4B'],[c24,'#F28A9C'],
[c12,'#55BFE0'],[c12b,'#55BFE0'],[c14b,'#F2504F'],[c13,'#B44FA8'],[c13c,'#B44FA8'],[c17,'#B01F72'],[c11,'#F5EA14'],[c19,'#8A5A14'],[c15,'#0E8C4C'],[c15b,'#0E8C4C'],[c16,'#1576B3'],[c16b,'#1576B3'],[c18a,'#EFC1DC'],[c18b,'#B44FA8'],[cStick,'#BDB0AE'],
[c72,'#24451C'],[c71,'#6E3A4C'],[c73,'#49B239'],[c73b,'#49B239'],[c22,'#84C998'],[c21m,'#2C3597'],[c21c,'#2C3597'],[c82,'#4D3F58'],[c81,'#4A62AE'],[c81b,'#4A62AE'],[c81c,'#4A62AE'],[c32b,'#0B5A47'],[c83,'#E92D8D'],[c11s,'#F7A896'],[c201,'#0F4FA0'],[c15g,'#FDB515'],[c102,'#687A2F'],[c191,'#B8D98E'],[c192,'#0F2A12'],[c31,'#B39659'],[c32,'#0B5A47'],[c5,'#5A0A10'],[c121,'#EE87B9'],[c122,'#B2339B'],[c123,'#D2691E'],[c202,'#7B1F87'],[c203,'#2DB35E'],[c233,'#8E6A8E'],[c231,'#8A91AE'],[c232,'#7E8F63'],[c26,'#B8C45A'],[cOrange,'#D9701E'],[c135,'#3D0F25'],[c133,'#7D4B47'],[c131,'#D5E9F3'],[c137,'#A3C4A0'],[c136,'#1CA7DC'],[c132,'#0E1A4F']];
const dotSets=[[dWhite,'#ffffff',3.4],[dWhiteClump,'#ffffff',6],[dBlue,'#55BFE0',4.5],[dPurple,'#B44FA8',4.5],[dMagenta,'#B01F72',4.5],[dYellow,'#F5EA14',4.5],[dBrown,'#7A4E12',4.5],[dRed,'#F2504F',4.5],[dImmBlue,'#1576B3',4.5],[dImmGreen,'#0E8C4C',4.5],[dDark14,'#3A2510',4.5],[dTeal103,'#22B39A',4.5],[dRed101,'#BC2024',4.5],[dBlue81,'#4A62AE',4.5],[dPink81,'#E92D8D',4.5],[dMauve,'#6E3A4C',4.5],[dGreen,'#49B239',4.5],[dDkGreen,'#24451C',4.5],[dBasalLight,'#84C998',4.5],[dBasalBlue,'#2C3597',4.5],[d19Light,'#B8D98E',5],[d19Dark,'#0F2A12',5],[d3Tan,'#B39659',4.5],[d3Teal,'#0B5A47',4.5],[d12Pink,'#EE87B9',4.5],[d12Magenta,'#B2339B',4.5],[d12Orange,'#D2691E',4.5],[dSage,'#A8C9A8',4.5],[dTeal13,'#127E6A',4.5],[dDarkMisc,'#1C1C1C',3.5],[dGlial,'#FDB515',4.5],[dPurple17,'#9B72B2',4.5],[dRed17,'#C41E4B',4.5],[dCream,'#F6D5A7',4.5]];

function layoutTree(n,out){
  if(typeof n==='string') return {x:clusters.indexOf(n),h:0};
  const a=layoutTree(n[1],out), b=layoutTree(n[2],out);
  out.push([a.x,a.h,a.x,n[0],b.x,n[0],b.x,b.h]);
  return {x:(a.x+b.x)/2,h:n[0]};
}
const treeSegs=[]; layoutTree(dendrogram,treeSegs);

const heatCells=[];
genes.forEach((g,r)=>{const m=new Map(expression[g]);clusters.forEach((c,i)=>heatCells.push([i,r,m.has(c)?m.get(c):0]));});

const FONT='"Liberation Sans", Arial, sans-serif';
const hiddenVal={type:'value',show:false,splitLine:{show:false}};
const boxY={min:-4.18,max:-0.158};

const series=[];
series.push({type:'custom',xAxisIndex:0,yAxisIndex:0,silent:true,animation:false,clip:true,z:2,
  data:shapes.map(s=>s[0][0]),
  renderItem(p,api){
    const s=shapes[p.dataIndex], pts=s[0].map(q=>api.coord(q));
    return {type:'group',children:[
      {type:'polygon',shape:{points:pts,smooth:0.5},style:{fill:s[1],stroke:null}},
      {type:'polygon',shape:{points:pts,smooth:0.5},style:{fill:null,stroke:s[1],lineWidth:3.6,lineCap:'round',lineDash:[0.01,3.4]}}
    ]};
  }});
dotSets.forEach(d=>series.push({type:'scatter',xAxisIndex:0,yAxisIndex:0,silent:true,animation:false,z:3,symbolSize:d[2],itemStyle:{color:d[1],opacity:1},data:d[0]}));
series.push({type:'scatter',xAxisIndex:0,yAxisIndex:0,silent:true,animation:false,z:5,symbolSize:0,data:regionLabels,
  label:{show:true,position:'inside',formatter:p=>p.value[2],color:'#000',fontFamily:FONT,fontSize:26}});
series.push({type:'scatter',xAxisIndex:0,yAxisIndex:0,silent:true,animation:false,z:6,symbolSize:0,data:numberLabels,
  label:{show:true,position:'inside',formatter:p=>p.value[2],color:'#fff',fontFamily:FONT,fontSize:20,fontWeight:'bold',textBorderColor:'#fff',textBorderWidth:5}});
series.push({type:'scatter',xAxisIndex:0,yAxisIndex:0,silent:true,animation:false,z:7,symbolSize:0,data:numberLabels,
  label:{show:true,position:'inside',formatter:p=>p.value[2],color:'#000',fontFamily:FONT,fontSize:20,fontWeight:'bold'}});
series.push({type:'custom',xAxisIndex:1,yAxisIndex:1,silent:true,animation:false,clip:false,
  data:treeSegs,encode:{x:[0,2,4,6],y:[1,3,5,7]},
  renderItem(p,api){
    const pts=[0,2,4,6].map(i=>api.coord([api.value(i),api.value(i+1)]));
    return {type:'polyline',shape:{points:pts},style:{stroke:'#4a4a4a',lineWidth:2,fill:null}};
  }});
const heatIndex=series.length;
series.push({type:'heatmap',xAxisIndex:2,yAxisIndex:2,silent:true,animation:false,progressive:0,data:heatCells,
  itemStyle:{borderColor:'rgba(255,255,255,0.10)',borderWidth:0.5}});
series.push({type:'custom',xAxisIndex:5,yAxisIndex:5,silent:true,animation:false,z:3,
  data:boxStats.map((b,i)=>[i,...b]),encode:{x:0,y:[1,2,3,4,5]},
  renderItem(p,api){
    const x=api.value(0), at=k=>api.coord([x,api.value(k)]);
    const lo=at(1),q1=at(2),me=at(3),q3=at(4),hi=at(5),w=8.5,line={stroke:'#444',lineWidth:1.2,fill:null};
    return {type:'group',children:[
      {type:'line',shape:{x1:hi[0],y1:hi[1],x2:hi[0],y2:q3[1]},style:line},
      {type:'line',shape:{x1:lo[0],y1:lo[1],x2:lo[0],y2:q1[1]},style:line},
      {type:'rect',shape:{x:q3[0]-w,y:q3[1],width:2*w,height:q1[1]-q3[1]},style:{fill:'#fff',stroke:'#444',lineWidth:1.2}},
      {type:'line',shape:{x1:me[0]-w,y1:me[1],x2:me[0]+w,y2:me[1]},style:{stroke:'#333',lineWidth:2.2}}
    ]};
  }});
series.push({type:'scatter',xAxisIndex:5,yAxisIndex:5,silent:true,animation:false,z:4,symbolSize:5,itemStyle:{color:'#333'},
  data:outliers.map(o=>[clusters.indexOf(o[0]),o[1]])});

const rotLabels=(size,margin)=>({interval:0,rotate:90,fontSize:size,margin,color:'#111',fontFamily:FONT});
const option={
  animation:false,backgroundColor:'#fff',textStyle:{fontFamily:FONT},
  grid:[
    {left:87,top:42,width:1252,height:1162,show:true,borderColor:'#111',borderWidth:1.5,backgroundColor:'#fff'},
    {left:44,top:1269,width:1264,height:212},
    {left:44,top:1488,width:1264,height:295},
    {left:1373,top:1488,width:14,height:211},
    {left:56.6,top:1827,width:1243.4,height:153},
    {left:46.1,top:1827,width:1264.8,height:153}],
  xAxis:[
    {...hiddenVal,gridIndex:0,min:87,max:1339},
    {...hiddenVal,gridIndex:1,min:-0.5,max:59.5},
    {type:'category',gridIndex:2,data:clusters,axisLine:{show:false},axisTick:{show:false},axisLabel:rotLabels(14,7)},
    {...hiddenVal,gridIndex:3,min:0,max:1},
    {type:'category',gridIndex:4,data:clusters,boundaryGap:false,axisLine:{show:false},axisTick:{show:false},axisLabel:{show:false},splitLine:{show:true,interval:0,lineStyle:{color:'#fff',width:1}}},
    {type:'category',gridIndex:5,data:clusters,axisLine:{show:false},axisTick:{show:true,alignWithLabel:true,length:3,lineStyle:{color:'#444'}},axisLabel:rotLabels(14,9)}],
  yAxis:[
    {...hiddenVal,gridIndex:0,min:42,max:1204,inverse:true},
    {...hiddenVal,gridIndex:1,min:0,max:212},
    {type:'category',gridIndex:2,data:genes,inverse:true,position:'right',axisLine:{show:false},axisTick:{show:false},axisLabel:{interval:0,fontSize:14,margin:5,color:'#111',fontFamily:FONT}},
    {type:'value',gridIndex:3,position:'right',min:0,max:3,interval:0.5,axisLine:{show:false},axisTick:{show:false},splitLine:{show:false},axisLabel:{fontSize:14.5,margin:6,color:'#111',fontFamily:FONT}},
    {type:'value',gridIndex:4,...boxY,axisLine:{show:false},axisTick:{show:false,customValues:[-3.5,-2.5,-1.5,-0.5]},axisLabel:{show:false,customValues:[-3.5,-2.5,-1.5,-0.5]},splitLine:{show:true,lineStyle:{color:'#fff',width:0.6}}},
    {type:'value',gridIndex:5,...boxY,position:'right',offset:2.1,axisLine:{show:false},axisTick:{show:true,length:2,customValues:[-4,-3,-2,-1],lineStyle:{color:'#444'}},axisLabel:{fontSize:8,margin:5,color:'#333',customValues:[-4,-3,-2,-1]},splitLine:{show:true,lineStyle:{color:'#fff',width:1.3}}}],
  visualMap:{type:'continuous',seriesIndex:heatIndex,min:0,max:3,calculable:false,realtime:false,left:1373,top:1488,itemWidth:14,itemHeight:211,padding:0,text:null,showLabel:false,
    inRange:{color:['#4575B4','#91BFDB','#E0F3F8','#FFFFBF','#FEE090','#FC8D59','#D73027']}},
  graphic:[
    {type:'rect',z:-1,silent:true,shape:{x:44,y:1827,width:1269,height:153},style:{fill:'#EBEBEB'}},
    {type:'text',x:14,y:10,style:{text:'A',fontFamily:FONT,fontSize:30,fontWeight:'bold',fill:'#000'}},
    {type:'text',x:14,y:1236,style:{text:'B',fontFamily:FONT,fontSize:30,fontWeight:'bold',fill:'#000'}},
    {type:'text',x:705,y:1233,style:{text:'tSNE1',fontFamily:FONT,fontSize:33,fill:'#000',textAlign:'center',textVerticalAlign:'middle'}},
    {type:'text',x:60,y:651,rotation:Math.PI/2,style:{text:'tSNE2',fontFamily:FONT,fontSize:33,fill:'#000',textAlign:'center',textVerticalAlign:'middle'}},
    {type:'text',x:717,y:2033,style:{text:'Clusters',fontFamily:FONT,fontSize:16,fill:'#111',textAlign:'center',textVerticalAlign:'middle'}},
    {type:'text',x:1347,y:1911,rotation:Math.PI/2,style:{text:'log10(cell proportions)',fontFamily:FONT,fontSize:14,fill:'#111',textAlign:'center',textVerticalAlign:'middle'}}],
  series
};
const chart=echarts.init(document.getElementById('c'),null,{renderer:'canvas'});
chart.setOption(option);
</script></body></html>
